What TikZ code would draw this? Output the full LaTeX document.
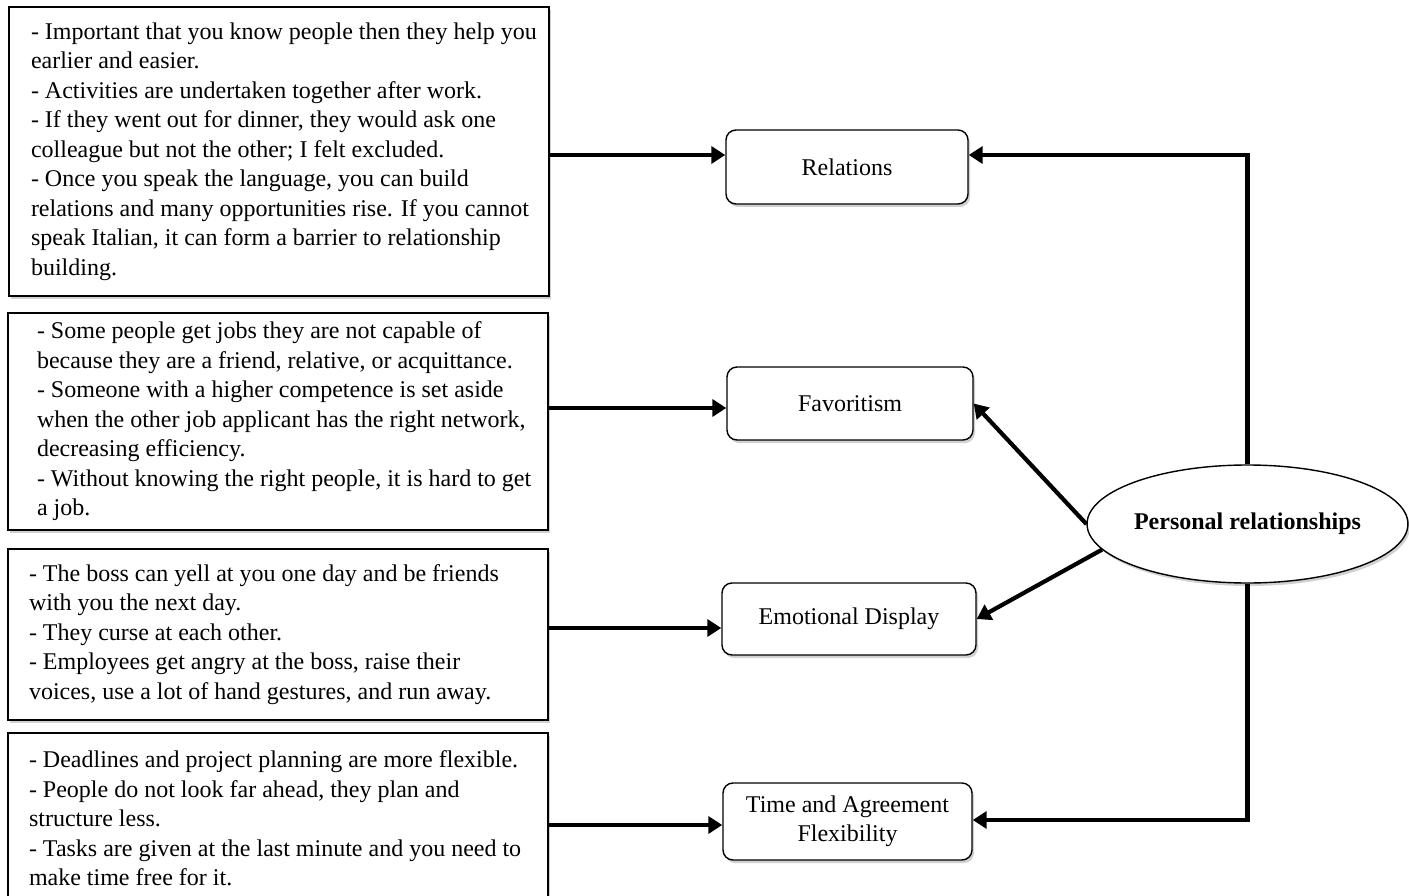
\documentclass[tikz,border=0pt]{standalone}
\usepackage{fontspec}
\setmainfont{Liberation Serif}
\usetikzlibrary{arrows.meta,shapes.geometric,shadows}
% fixed-width block of unbroken, left-aligned lines
\newcommand\notelines[2]{\makebox[#1][l]{\begin{tabular}{@{}l@{}}#2\end{tabular}}}

\begin{document}
\begin{tikzpicture}[x=1pt,y=-1pt,
  every node/.style={font=\fontsize{24}{29.5}\selectfont},
  softshadow/.style={drop shadow={shadow xshift=2pt,shadow yshift=-3pt,opacity=0.18,fill=black}},
  notebox/.style={draw,fill=white,inner sep=0pt,minimum width=540pt,softshadow},
  thicknote/.style={notebox,line width=1.8pt},
  thinnote/.style={notebox,line width=1.1pt},
  topicbox/.style={draw,fill=white,rounded corners=10pt,line width=1.4pt,inner sep=0pt,align=center,softshadow},
  hub/.style={ellipse,draw,fill=white,line width=1.4pt,minimum width=317pt,minimum height=118pt,inner sep=0pt,
    font=\fontsize{24}{29.5}\selectfont\bfseries,softshadow},
  arr/.style={line width=4.2pt,-{Triangle[length=14pt,width=17pt]}}
]
\useasboundingbox (0,0) rectangle (1409,896);

% quotation boxes
\node[thicknote,minimum height=289pt] (n1) at (279,151.5) {\notelines{496pt}{%
- Important that you know people then they help you\\
earlier and easier.\\
- Activities are undertaken together after work.\\
- If they went out for dinner, they would ask one\\
colleague but not the other; I felt excluded.\\
- Once you speak the language, you can build\\
relations and many opportunities rise. If you cannot\\
speak Italian, it can form a barrier to relationship\\
building.}};

\node[thicknote,minimum height=217pt] (n2) at (278,421.5) {\notelines{482pt}{%
- Some people get jobs they are not capable of\\
because they are a friend, relative, or acquittance.\\
- Someone with a higher competence is set aside\\
when the other job applicant has the right network,\\
decreasing efficiency.\\
- Without knowing the right people, it is hard to get\\
a job.}};

\node[thinnote,minimum height=171pt] (n3) at (278,634.5) {\notelines{498pt}{%
- The boss can yell at you one day and be friends\\
with you the next day.\\
- They curse at each other.\\
- Employees get angry at the boss, raise their\\
voices, use a lot of hand gestures, and run away.}};

\node[thinnote,minimum height=176pt] (n4) at (278,821) {\notelines{498pt}{%
- Deadlines and project planning are more flexible.\\
- People do not look far ahead, they plan and\\
structure less.\\
- Tasks are given at the last minute and you need to\\
make time free for it.}};

% themes
\node[topicbox,minimum width=242pt,minimum height=74pt] (rel) at (847,167) {Relations};
\node[topicbox,minimum width=246pt,minimum height=73pt] (fav) at (850,403.5) {Favoritism};
\node[topicbox,minimum width=254pt,minimum height=72pt] (emo) at (849,619) {Emotional Display};
\node[topicbox,minimum width=249pt,minimum height=77pt] (tim) at (847.5,821.5) {Time and Agreement\\Flexibility};

% central concept
\node[hub] (pr) at (1247.5,524) {Personal relationships};

% quotations to themes
\draw[arr] ([yshift=-3.5pt]n1.east) -- ([yshift=12pt]rel.west);
\draw[arr] ([yshift=13.5pt]n2.east) -- ([yshift=-4.5pt]fav.west);
\draw[arr] ([yshift=6.5pt]n3.east) -- ([yshift=-9pt]emo.west);
\draw[arr] ([yshift=-4pt]n4.east) -- ([yshift=-3.5pt]tim.west);

% central concept to themes
\draw[arr] (pr.north) |- ([yshift=12pt]rel.east);
\draw[arr] (pr.west) -- (fav.east);
\draw[arr] (pr.190) -- (emo.east);
\draw[arr] (pr.south) |- ([yshift=1.5pt]tim.east);
\end{tikzpicture}
\end{document}
